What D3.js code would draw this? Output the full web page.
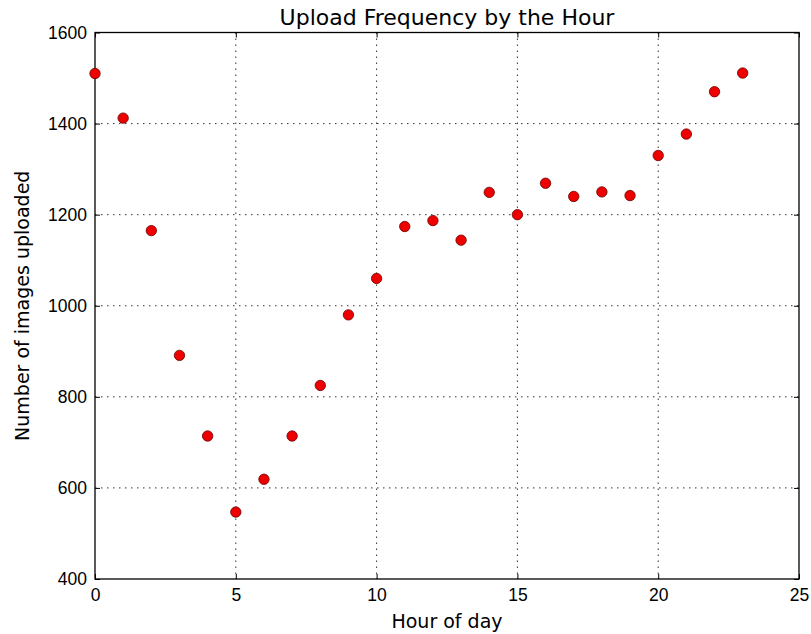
<!DOCTYPE html>
<html>
<head>
<meta charset="utf-8">
<script src="https://cdn.jsdelivr.net/npm/d3@7"></script>
<style>
  body { margin: 0; background: #fff; }
  svg { font-family: "DejaVu Sans", sans-serif; }
  .grid line { stroke: #333; stroke-dasharray: 1.5, 4.5; stroke-width: 1; }
  .axis path { display: none; }
  .axis line { stroke: #000; }
  .axis text { font-size: 17.5px; fill: #000; }
</style>
</head>
<body>
<svg width="811" height="634"></svg>
<script>
// upload counts per hour
var hours = [0,1,2,3,4,5,6,7,8,9,10,11,12,13,14,15,16,17,18,19,20,21,22,23]
var uploads = [1510,1412,1165,891,714,547,619,714,825,980,1060,1174,1187,1144,1249,1200,1269,1240,1250,1242,1330,1377,1470,1511]
var xTicks = [0,5,10,15,20,25]
var yTicks = [400,600,800,1000,1200,1400,1600]

var margin = { top: 32.5, right: 12, bottom: 55, left: 95 }
var width = 811 - margin.left - margin.right
var height = 634 - margin.top - margin.bottom

var svg = d3.select("svg")
var g = svg.append("g")
  .attr("transform", "translate(" + margin.left + "," + margin.top + ")")

var x = d3.scaleLinear().domain([0, 25]).range([0, width])
var y = d3.scaleLinear().domain([400, 1600]).range([height, 0])

// dotted grid
g.append("g").attr("class", "grid")
  .selectAll("line").data(xTicks.slice(1, -1)).enter().append("line")
  .attr("x1", d => x(d)).attr("x2", d => x(d))
  .attr("y1", 0).attr("y2", height)
g.append("g").attr("class", "grid")
  .selectAll("line").data(yTicks.slice(1, -1)).enter().append("line")
  .attr("y1", d => y(d)).attr("y2", d => y(d))
  .attr("x1", 0).attr("x2", width)

// axes, ticks pointing inward like matplotlib classic
g.append("g").attr("class", "axis")
  .attr("transform", "translate(0," + height + ")")
  .call(d3.axisBottom(x).tickValues(xTicks).tickSize(-5).tickPadding(10))
g.append("g").attr("class", "axis")
  .call(d3.axisTop(x).tickValues(xTicks).tickSize(-5).tickFormat(""))
g.append("g").attr("class", "axis")
  .call(d3.axisLeft(y).tickValues(yTicks).tickSize(-5).tickPadding(8).tickFormat(d3.format("d")))
g.append("g").attr("class", "axis")
  .attr("transform", "translate(" + width + ",0)")
  .call(d3.axisRight(y).tickValues(yTicks).tickSize(-5).tickFormat(""))

// frame
g.append("rect")
  .attr("width", width).attr("height", height)
  .attr("fill", "none").attr("stroke", "#000").attr("stroke-width", 1.3)

// points
g.selectAll("circle.pt")
  .data(hours)
  .enter().append("circle")
  .attr("class", "pt")
  .attr("cx", d => x(d))
  .attr("cy", (d, i) => y(uploads[i]))
  .attr("r", 5.2)
  .attr("fill", "#ee0000")
  .attr("stroke", "#6a0000")
  .attr("stroke-width", 0.8)

// labels
svg.append("text")
  .attr("x", margin.left + width / 2).attr("y", 25)
  .attr("text-anchor", "middle").style("font-size", "22px")
  .text("Upload Frequency by the Hour")

svg.append("text")
  .attr("x", margin.left + width / 2).attr("y", 628)
  .attr("text-anchor", "middle").style("font-size", "19px")
  .text("Hour of day")

svg.append("text")
  .attr("transform", "translate(29," + (margin.top + height / 2) + ") rotate(-90)")
  .attr("text-anchor", "middle").style("font-size", "19px")
  .text("Number of images uploaded")
</script>
</body>
</html>
